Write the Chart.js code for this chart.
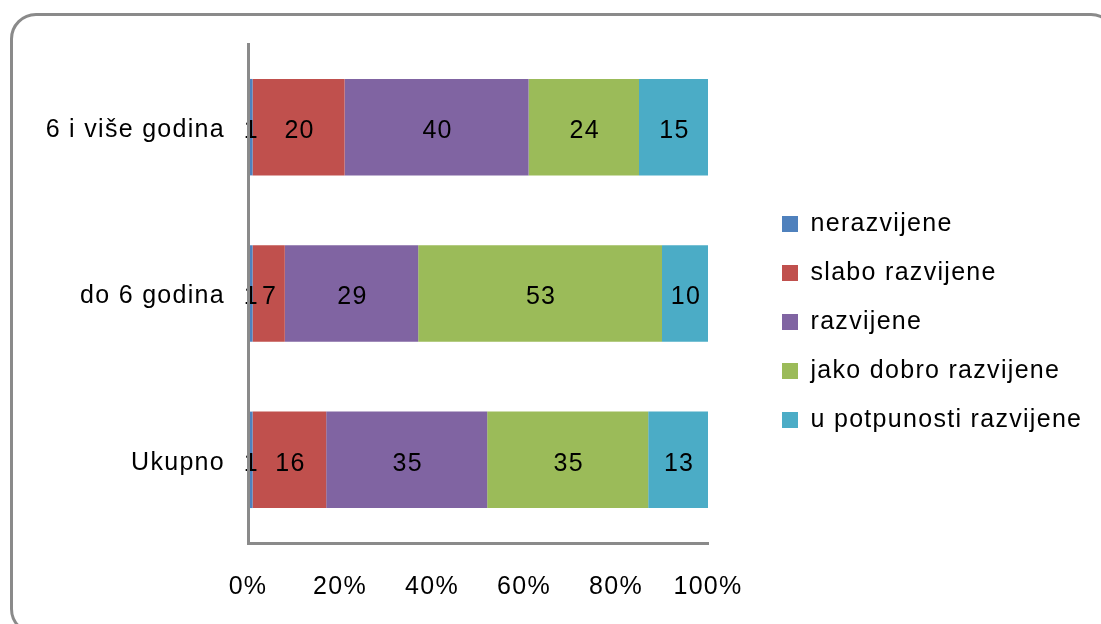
<!DOCTYPE html>
<html><head><meta charset="utf-8">
<script src="https://cdn.jsdelivr.net/npm/chart.js@4"></script>
<style>
html,body{margin:0;padding:0;background:#fff;overflow:hidden;width:1101px;height:624px}
#frame{position:absolute;left:10px;top:13px;width:1107px;height:622px;box-sizing:border-box;border:3px solid #8a8a8a;border-radius:26px}
#c{position:absolute;left:0;top:0}
</style></head><body>
<div id="frame"></div>
<canvas id="c" width="1101" height="624"></canvas>
<script>
// ---- data ----
const categories = ['6 i više godina', 'do 6 godina', 'Ukupno'];
const seriesNames = ['nerazvijene', 'slabo razvijene', 'razvijene', 'jako dobro razvijene', 'u potpunosti razvijene'];
const nerazvijene = [1, 1, 1];
const slaboRazvijene = [20, 7, 16];
const razvijene = [40, 29, 35];
const jakoDobroRazvijene = [24, 53, 35];
const uPotpunostiRazvijene = [15, 10, 13];
const seriesColors = ['#4F81BD', '#C0504D', '#8064A2', '#9BBB59', '#4BACC6'];
const xTickValues = [0, 20, 40, 60, 80, 100];

const seriesData = [nerazvijene, slaboRazvijene, razvijene, jakoDobroRazvijene, uPotpunostiRazvijene];
const FONT = { family: "'Liberation Sans', Arial, Helvetica, sans-serif", size: 25 };
const LS = '1.3px';

const spacing = {
  id: 'spacing',
  beforeLayout(chart) { chart.ctx.letterSpacing = LS; },
  beforeDraw(chart) { chart.ctx.letterSpacing = LS; }
};
const legendWidth = {
  id: 'legendWidth',
  beforeLayout(chart) {
    const lg = chart.legend;
    if (lg && !lg._fixedW) {
      const f = lg.fit;
      lg.fit = function () { f.call(this); this.width = 343; };
      lg._fixedW = true;
    }
  }
};
const barLabels = {
  id: 'barLabels',
  afterDatasetsDraw(chart) {
    const ctx = chart.ctx;
    ctx.save();
    ctx.letterSpacing = LS;
    ctx.font = FONT.size + 'px ' + FONT.family;
    ctx.fillStyle = '#000';
    ctx.textAlign = 'center';
    ctx.textBaseline = 'middle';
    chart.data.datasets.forEach((ds, i) => {
      const meta = chart.getDatasetMeta(i);
      meta.data.forEach((bar, j) => {
        const p = bar.getProps(['x', 'y', 'base'], true);
        ctx.fillText(String(ds.data[j]), (p.x + p.base) / 2 + 1, p.y + 4);
      });
    });
    ctx.restore();
  }
};

new Chart(document.getElementById('c'), {
  type: 'bar',
  data: {
    labels: categories,
    datasets: seriesNames.map((n, i) => ({
      label: n,
      data: seriesData[i],
      backgroundColor: seriesColors[i],
      borderWidth: 0,
      barPercentage: 0.58,
      categoryPercentage: 1
    }))
  },
  options: {
    indexAxis: 'y',
    responsive: false,
    animation: false,
    layout: { padding: { top: 44, bottom: 24, left: 0, right: 0 } },
    scales: {
      x: {
        stacked: true, min: 0, max: 100,
        grid: { display: false, drawTicks: false },
        border: { display: true, color: '#8a8a8a', width: 3, z: 1 },
        afterBuildTicks(s) { s.ticks = xTickValues.map(v => ({ value: v })); },
        ticks: { padding: 29, color: '#000', font: FONT, maxRotation: 0, autoSkip: false, callback: v => v + '%' },
        afterFit(s) { s.height = 57; }
      },
      y: {
        stacked: true,
        grid: { display: false, drawTicks: false },
        border: { display: true, color: '#8a8a8a', width: 3, z: 1 },
        ticks: { padding: 23, labelOffset: 3, color: '#000', font: FONT, autoSkip: false },
        afterFit(s) { s.width = 248; }
      },
      gap: {
        type: 'linear', position: 'right', display: true,
        grid: { display: false, drawTicks: false },
        border: { display: false },
        ticks: { display: false },
        afterFit(s) { s.width = 50; }
      }
    },
    plugins: {
      legend: {
        position: 'right', align: 'center',
        labels: { boxWidth: 16, boxHeight: 16, padding: 24, color: '#000', font: FONT }
      },
      tooltip: { enabled: false }
    }
  },
  plugins: [spacing, legendWidth, barLabels]
});
</script>
</body></html>
